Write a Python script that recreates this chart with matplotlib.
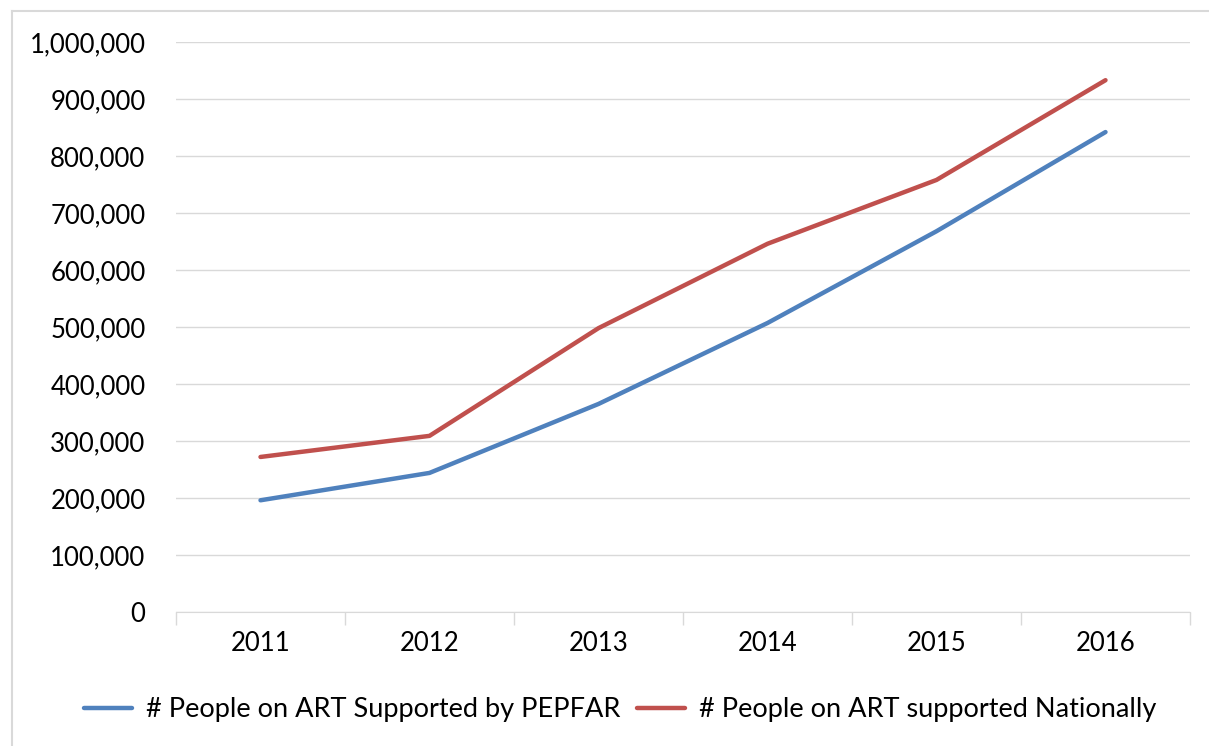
import numpy as np
import matplotlib.pyplot as plt
from matplotlib.ticker import FuncFormatter, FixedLocator
from matplotlib.lines import Line2D

years = ["2011", "2012", "2013", "2014", "2015", "2016"]
pepfar = [196000, 244000, 365000, 507000, 668000, 842000]
national = [272000, 309000, 498000, 646000, 758000, 933000]

plt.rcParams['font.family'] = ['Lato', 'DejaVu Sans']

fig = plt.figure(figsize=(12.09, 7.46), dpi=100)
W, H = 1209, 746
ax = fig.add_axes([176 / W, 1 - 612 / H, (1190 - 176) / W, (612 - 42) / H])

x = np.arange(len(years))
ax.plot(x, pepfar, color='#4F81BD', lw=3.2, solid_capstyle='round',
        label='# People on ART Supported by PEPFAR')
ax.plot(x, national, color='#C0504D', lw=3.2, solid_capstyle='round',
        label='# People on ART supported Nationally')

ax.set_xlim(-0.5, len(years) - 0.5)
ax.set_ylim(0, 1000000)
ax.set_yticks(np.arange(0, 1000001, 100000))
ax.yaxis.set_major_formatter(FuncFormatter(lambda v, p: f"{int(v):,}"))
ax.grid(axis='y', color='#D9D9D9', lw=1)
ax.set_axisbelow(True)

ax.set_xticks(x)
ax.set_xticklabels(years)
ax.xaxis.set_minor_locator(FixedLocator(np.arange(-0.5, len(years), 1)))
ax.tick_params(axis='x', which='major', length=0, pad=14, labelsize=18.5)
ax.tick_params(axis='x', which='minor', length=9, color='#D9D9D9', width=1)
ax.tick_params(axis='y', length=0, pad=22, labelsize=18.5)

for s in ['top', 'right', 'left']:
    ax.spines[s].set_visible(False)
ax.spines['bottom'].set_color('#D9D9D9')

fig.legend(loc='center', bbox_to_anchor=(620 / W, 1 - 710 / H), ncol=2, frameon=False,
           fontsize=19.5, handlelength=1.8, handletextpad=0.5, columnspacing=0.6)

# outer chart border
fig.add_artist(Line2D([12 / W, 12 / W], [0, 1 - 11 / H], color='#D9D9D9', lw=1.5))
fig.add_artist(Line2D([12 / W, 1], [1 - 11 / H, 1 - 11 / H], color='#D9D9D9', lw=1.5))

fig.savefig('out.png', dpi=100)
